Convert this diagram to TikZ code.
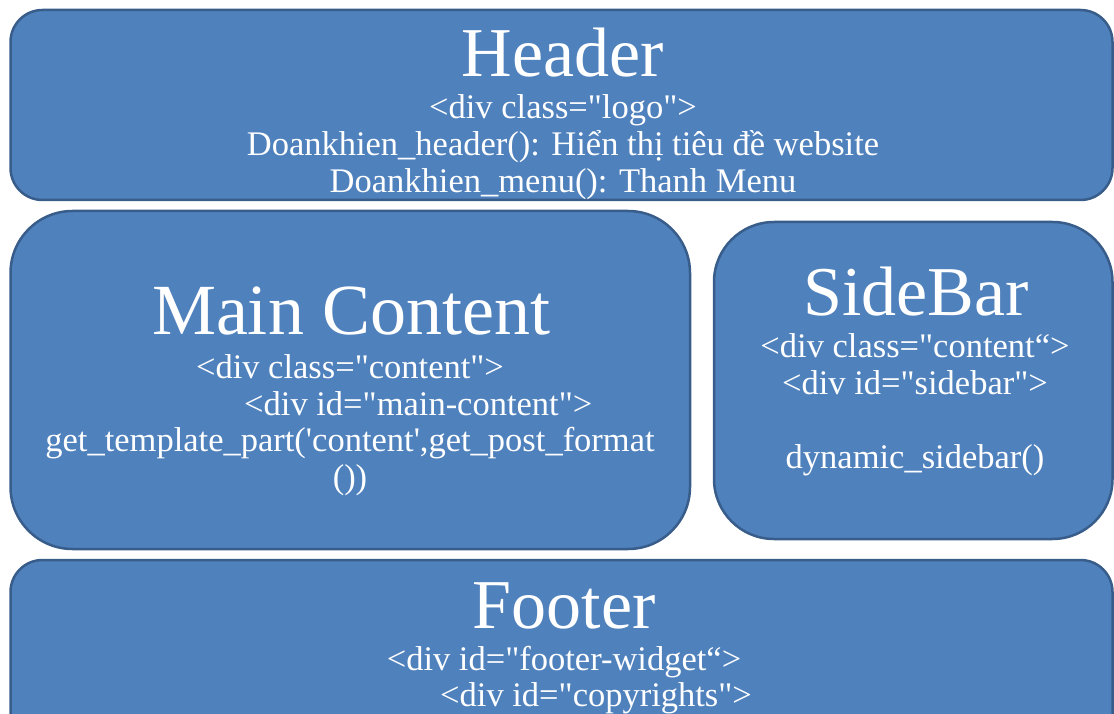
\documentclass[tikz,border=0pt]{standalone}
\usepackage{fontspec}
% Times-metric serif, no TeX ligature mapping so quotes stay straight
\newfontfamily\lserif{Liberation Serif}
\definecolor{panelfill}{HTML}{4F81BD}
\definecolor{panelline}{HTML}{385D8A}
\begin{document}
\begin{tikzpicture}[x=1pt,y=-1pt,
  panel/.style={draw=panelline, fill=panelfill, line width=2.5pt, inner sep=0pt, outer sep=0pt},
  title/.style={text=white, font=\lserif\fontsize{70}{80}\selectfont, anchor=base, inner sep=0pt},
  body/.style={text=white, font=\lserif\fontsize{34.5}{37}\selectfont, anchor=base, inner sep=0pt},
  bodyleft/.style={body, anchor=base west}]
\useasboundingbox (0,0) rectangle (1114,714);

% page regions
\node[panel, minimum width=1102pt, minimum height=190pt, rounded corners=32pt] (header) at (561.5,105) {};
\node[panel, minimum width=679.5pt, minimum height=338pt, rounded corners=62pt] (main) at (350.25,380) {};
\node[panel, minimum width=398.5pt, minimum height=317pt, rounded corners=60pt] (sidebar) at (913.25,380.5) {};
\node[panel, minimum width=1102pt, minimum height=220pt, rounded corners=32pt] (footer) at (561.5,670) {};

% header
\node[title] (headerTitle) at (563,77) {Header};
\node[body] (headerL1) at (563,118.5) {<div class="logo">};
\node[body] (headerL2) at (563,155.5) {Doankhien\_header(): Hiển thị tiêu đề website};
\node[body] (headerL3) at (563,192.5) {Doankhien\_menu(): Thanh Menu};

% main content
\node[title, font=\lserif\fontsize{72}{80}\selectfont] (mainTitle) at (351,334) {Main Content};
\node[body] (mainL1) at (350,378) {<div class="content">};
\node[bodyleft] (mainL2) at (244,415) {<div id="main-content">};
\node[body] (mainL3) at (350,451) {get\_template\_part('content',get\_post\_format};
\node[body] (mainL4) at (350,488) {())};

% sidebar
\node[title] (sideTitle) at (916,315) {SideBar};
\node[body] (sideL1) at (915,357) {<div class="content“>};
\node[body] (sideL2) at (915,394) {<div id="sidebar">};
\node[body] (sideL3) at (915,468) {dynamic\_sidebar()};

% footer
\node[title] (footerTitle) at (564,628) {Footer};
\node[body] (footerL1) at (564,670.5) {<div id="footer-widget“>};
\node[bodyleft] (footerL2) at (440,706) {<div id="copyrights">};
\end{tikzpicture}
\end{document}
